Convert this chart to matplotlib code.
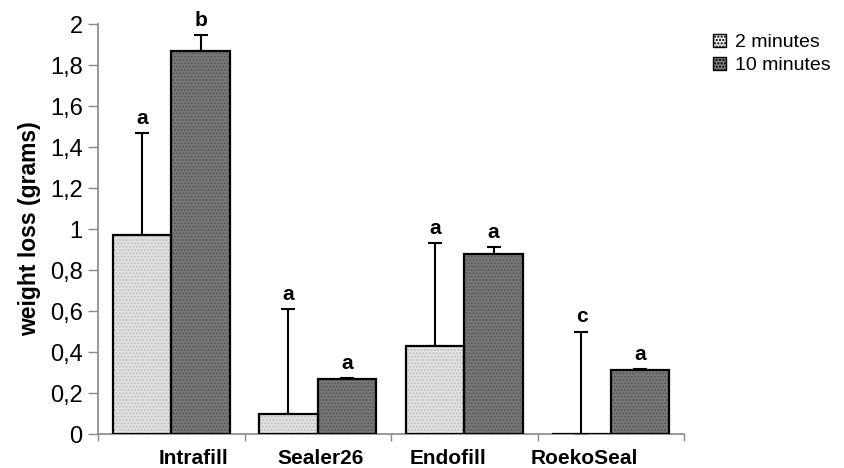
import numpy as np
import matplotlib.pyplot as plt
from matplotlib.ticker import FuncFormatter, FixedLocator
from matplotlib.patches import Patch

plt.rcParams['font.family'] = ['Liberation Sans', 'DejaVu Sans']

# data
materials = ['Intrafill', 'Sealer26', 'Endofill', 'RoekoSeal']
loss_2min = [0.97, 0.10, 0.43, 0.0]
loss_10min = [1.87, 0.27, 0.88, 0.31]
err_2min = [0.50, 0.51, 0.50, 0.50]
err_10min = [0.075, 0.005, 0.033, 0.008]
letters_2min = ['a', 'a', 'a', 'c']
letters_10min = ['b', 'a', 'a', 'a']
legend_labels = ['2 minutes', '10 minutes']

# the category labels in the original are not centred under their groups
label_shift = [0.15, 0.02, -0.11, -0.18]

fig = plt.figure(figsize=(8.45, 4.68), dpi=100)
ax = fig.add_axes([0.116, 0.0726, 0.6935, 0.8761])

x = np.arange(len(materials))
w = 0.4
cols = ['#e4e4e4', '#7a7a7a']
hatch_cols = ['#bdbdbd', '#555555']

for i, (vals, errs, letters) in enumerate([(loss_2min, err_2min, letters_2min),
                                           (loss_10min, err_10min, letters_10min)]):
	pos = x + (i - 0.5) * w
	ax.bar(pos, vals, w, color=cols[i], hatch='.....', edgecolor=hatch_cols[i], linewidth=0, zorder=2)
	ax.bar(pos, vals, w, fill=False, edgecolor='black', linewidth=1.6, zorder=3)
	ax.errorbar(pos, vals, yerr=[np.zeros(len(vals)), errs], fmt='none', ecolor='black',
				elinewidth=1.5, capsize=5, capthick=1.5, zorder=1)
	for p, v, e, l in zip(pos, vals, errs, letters):
		ax.text(p, v + e + 0.025, l, ha='center', va='bottom', fontsize=15, fontweight='bold')

ax.set_xlim(-0.5, len(materials) - 0.5)
ax.set_ylim(0, 2)
ax.set_yticks(np.arange(0, 2.01, 0.2))
ax.yaxis.set_major_formatter(FuncFormatter(lambda v, p: ('%g' % round(v, 1)).replace('.', ',')))
ax.tick_params(axis='y', labelsize=17, length=7, width=1, color='#888888', pad=4)

ax.xaxis.set_major_locator(FixedLocator(x + np.array(label_shift)))
ax.set_xticklabels(materials, fontsize=15, fontweight='bold')
ax.tick_params(axis='x', which='major', length=0, pad=11)
ax.xaxis.set_minor_locator(FixedLocator(np.arange(-0.5, len(materials), 1)))
ax.tick_params(axis='x', which='minor', length=5, width=1, color='#888888', direction='out')

for s in ['top', 'right']:
	ax.spines[s].set_visible(False)
for s in ['left', 'bottom']:
	ax.spines[s].set_color('#888888')
	ax.spines[s].set_linewidth(1.2)

ax.set_ylabel('weight loss (grams)', fontsize=16.5, fontweight='bold', labelpad=6)

# legend
handles = [Patch(facecolor=cols[i], edgecolor='black', hatch='.....', linewidth=1) for i in range(2)]
fig.legend(handles, legend_labels, loc='upper left', bbox_to_anchor=(0.823, 0.965), frameon=False,
		   fontsize=14, handlelength=0.65, handleheight=0.65, handletextpad=0.5, labelspacing=0.3)

fig.savefig('out.png', dpi=100)
